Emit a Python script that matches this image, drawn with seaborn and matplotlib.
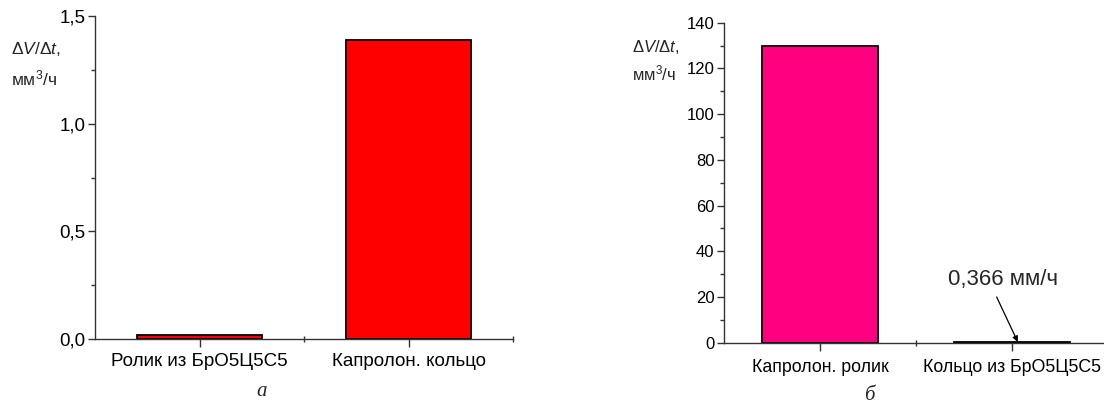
import matplotlib
matplotlib.use("Agg")
import matplotlib.pyplot as plt
from matplotlib.ticker import MultipleLocator, FixedLocator, FuncFormatter
import seaborn as sns
import pandas as pd

# Wear rate of the friction pair parts
cats_a = ["Ролик из БрО5Ц5С5", "Капролон. кольцо"]
vals_a = [0.02, 1.39]
colors_a = ["#FF0000", "#FF0000"]

cats_b = ["Капролон. ролик", "Кольцо из БрО5Ц5С5"]
vals_b = [130.0, 0.366]
colors_b = ["#FF0080", "#FF0080"]

yticks_a = [0.0, 0.5, 1.0, 1.5]
yticks_b = [0, 20, 40, 60, 80, 100, 120, 140]

sns.set_theme(style="ticks")
plt.rcParams["font.family"] = ["Liberation Sans", "DejaVu Sans"]
plt.rcParams["mathtext.fontset"] = "custom"
plt.rcParams["mathtext.rm"] = "Liberation Sans"
plt.rcParams["mathtext.it"] = "Liberation Sans:italic"

fig = plt.figure(figsize=(11.04, 4.05), dpi=100)
ax_a = fig.add_axes([95 / 1104, 1 - 339 / 405, (513 - 95) / 1104, (339 - 16) / 405])
ax_b = fig.add_axes([724 / 1104, 1 - 342.7 / 405, (1108 - 724) / 1104, (342.7 - 22.7) / 405])

spine_col = "#333333"


def comma(v, _pos, fmt):
    return fmt.format(v).replace(".", ",")


def draw(ax, cats, vals, colors, yticks, ymax, ystep_minor, fmt, fs_y, fs_x, xpad):
    df = pd.DataFrame({"cat": cats, "val": vals})
    sns.barplot(data=df, x="cat", y="val", hue="cat", palette=colors, legend=False,
                width=0.6, edgecolor="black", linewidth=1.3, saturation=1, ax=ax)
    ax.set_xlim(-0.5, 1.5)
    ax.set_ylim(0, ymax)
    ax.set_yticks(yticks)
    ax.yaxis.set_minor_locator(MultipleLocator(ystep_minor))
    ax.xaxis.set_minor_locator(FixedLocator([0.5, 1.5]))
    ax.yaxis.set_major_formatter(FuncFormatter(lambda v, p: comma(v, p, fmt)))
    for s in ["top", "right"]:
        ax.spines[s].set_visible(False)
    for s in ["left", "bottom"]:
        ax.spines[s].set_color(spine_col)
        ax.spines[s].set_linewidth(1.0)
    ax.tick_params(axis="y", which="major", direction="out", length=5, width=1,
                   color=spine_col, labelsize=fs_y, pad=2, labelcolor="black")
    ax.tick_params(axis="y", which="minor", direction="out", length=3, width=1, color=spine_col)
    ax.tick_params(axis="x", which="major", direction="out", length=6, width=1,
                   color=spine_col, labelsize=fs_x, pad=xpad, labelcolor="black")
    ax.tick_params(axis="x", which="minor", direction="inout", length=5, width=1, color=spine_col)
    ax.set_xlabel("")
    ax.set_ylabel("")
    ax.set_facecolor("white")


draw(ax_a, cats_a, vals_a, colors_a, yticks_a, 1.5, 0.25, "{:.1f}", 13.5, 13.5, 4)
draw(ax_b, cats_b, vals_b, colors_b, yticks_b, 140, 10, "{:.0f}", 12, 12.8, 6)

# Y-axis captions, written horizontally beside the axes
fig.text(11 / 1104, 1 - 49 / 405, r"$\Delta V/\Delta t$,", fontsize=12.5, va="center", ha="left")
fig.text(11 / 1104, 1 - 78 / 405, "мм$^3$/ч", fontsize=12.5, va="center", ha="left")
fig.text(632 / 1104, 1 - 47 / 405, r"$\Delta V/\Delta t$,", fontsize=12, va="center", ha="left")
fig.text(632 / 1104, 1 - 73 / 405, "мм$^3$/ч", fontsize=12, va="center", ha="left")

# Panel letters
fig.text(262 / 1104, 1 - 392 / 405, "а", fontsize=15, style="italic",
         family="Liberation Serif", ha="center", va="center")
fig.text(869 / 1104, 1 - 395 / 405, "б", fontsize=15, style="italic",
         family="Liberation Serif", ha="center", va="center")

# Value callout for the small bar
ax_b.annotate("", xy=(1.03, vals_b[1]), xytext=(0.92, 20),
              arrowprops=dict(arrowstyle="-|>", color="black", lw=0.9,
                              mutation_scale=8, shrinkA=0, shrinkB=0))
ax_b.text(0.955, 27.5, "0,366 мм/ч", fontsize=16, ha="center", va="center")

fig.savefig("out.png", dpi=100, facecolor="white")
